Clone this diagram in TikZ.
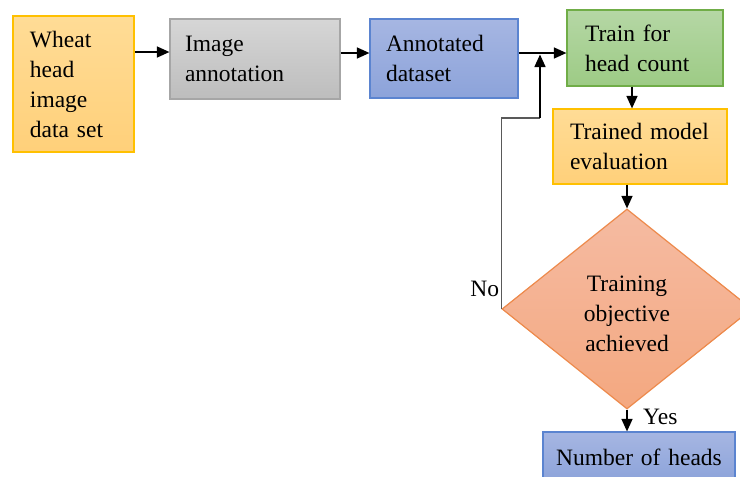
\documentclass[tikz,border=0pt]{standalone}
\usepackage{fontspec}
\setmainfont{Liberation Serif}
\usetikzlibrary{shapes.geometric,arrows.meta}

\definecolor{yelline}{HTML}{FFC000}
\definecolor{grayline}{HTML}{A6A6A6}
\definecolor{blueline}{HTML}{5B84D0}
\definecolor{greenline}{HTML}{70AD47}
\definecolor{orgline}{HTML}{ED8A4C}
\definecolor{loopline}{HTML}{595959}

\tikzset{
  box/.style={draw,line width=1.2pt,rectangle,inner ysep=0pt,align=left,
    font=\fontsize{23.5}{30}\selectfont},
  yelbox/.style={box,draw=yelline,top color={rgb,255:red,255;green,220;blue,150},bottom color={rgb,255:red,255;green,208;blue,122}},
  graybox/.style={box,draw=grayline,top color={rgb,255:red,214;green,214;blue,214},bottom color={rgb,255:red,189;green,189;blue,189}},
  bluebox/.style={box,draw=blueline,top color={rgb,255:red,166;green,182;blue,226},bottom color={rgb,255:red,140;green,163;blue,218}},
  greenbox/.style={box,draw=greenline,top color={rgb,255:red,181;green,215;blue,165},bottom color={rgb,255:red,157;green,203;blue,133}},
  decision/.style={diamond,draw=orgline,line width=1.2pt,inner sep=0pt,align=center,
    top color={rgb,255:red,245;green,187;blue,162},bottom color={rgb,255:red,244;green,168;blue,128},
    font=\fontsize{23.5}{30}\selectfont},
  arr/.style={line width=1.5pt,-{Triangle[length=12.5pt,width=11pt]}},
  lbl/.style={font=\fontsize{23.5}{30}\selectfont,inner sep=0pt}
}

\begin{document}
\begin{tikzpicture}[x=1pt,y=-1pt]
\useasboundingbox (0,0) rectangle (740,477);
\clip (0,0) rectangle (740,477);
% boxes
\node[yelbox,minimum height=136pt,inner xsep=17pt,text width=87pt] (wheat) at (73.5,84) {Wheat\\head\\image\\data set};
\node[graybox,minimum height=80pt,inner xsep=15pt,text width=140pt] (annot) at (255,59) {Image\\annotation};
\node[bluebox,minimum height=79pt,inner xsep=16pt,text width=116pt] (dataset) at (444,58.5) {Annotated\\dataset};
\node[greenbox,minimum height=76pt,inner xsep=18pt,text width=120pt] (train) at (645,48) {Train for\\head count};
\node[yelbox,minimum height=75pt,inner xsep=17pt,text width=140pt] (eval) at (640,146.5) {Trained model\\evaluation};
\node[decision,minimum width=250pt,minimum height=200pt] (dec) at (627,309)
  {\raisebox{-6pt}[\height][\depth]{\begin{tabular}{@{}c@{}}Training\\objective\\achieved\end{tabular}}};
\node[bluebox,minimum height=50pt,inner xsep=0pt,text width=192pt,align=center] (heads) at (639,457) {Number of heads\\[2pt]};
% connectors
\coordinate (a1) at ([yshift=7pt]annot.west);
\coordinate (a2) at ([yshift=6pt]annot.east);
\coordinate (a3) at ([yshift=5.5pt]dataset.east);
\draw[arr] (a1 -| wheat.east) -- (a1);
\draw[arr] (a2) -- (a2 -| dataset.west);
\draw[arr] (a3) -- (a3 -| train.west);
\draw[arr] ([xshift=-13pt]train.south) -- ([xshift=-8pt]eval.north);
\draw[arr] (eval.south -| dec.north) -- (dec.north);
\draw[arr] (dec.south) -- (dec.south |- heads.north);
% loop back
\coordinate (bend) at (540,118);
\coordinate (join) at (540,54.5);
\draw[line width=1.5pt,loopline] (dec.west) |- (bend);
\draw[arr] (bend) -- (join);
\node[lbl,anchor=base east] (no) at ([xshift=-2pt,yshift=13pt]dec.west) {No};
\node[lbl,anchor=base west] (yes) at ([xshift=16pt,yshift=-15pt]dec.south) {Yes};
\end{tikzpicture}
\end{document}
